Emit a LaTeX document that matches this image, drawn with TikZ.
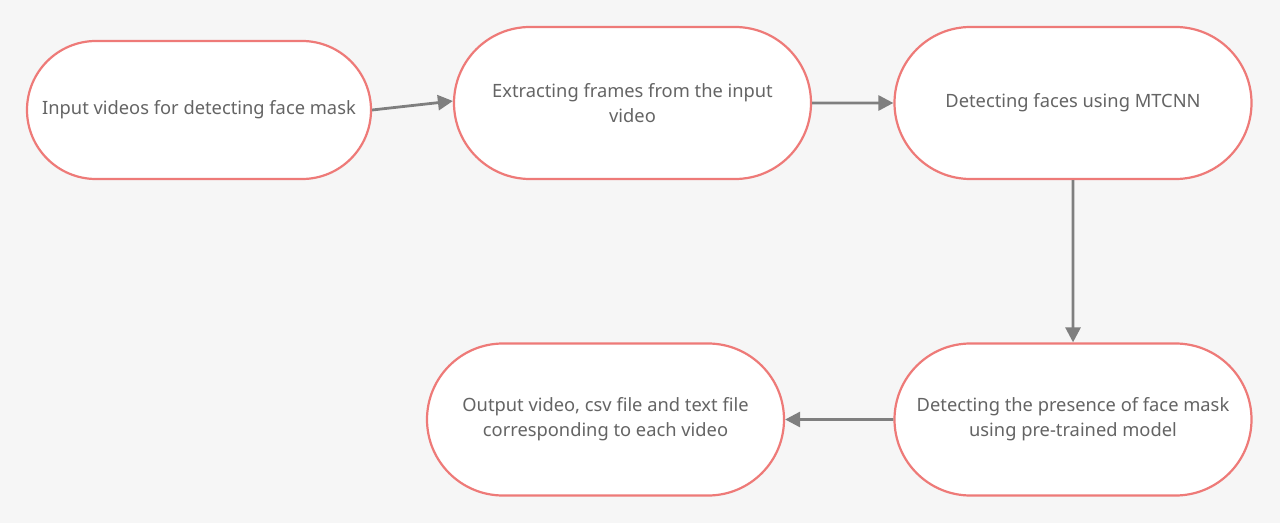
\documentclass[tikz,border=0pt]{standalone}
\usepackage{fontspec}
\setmainfont{Noto Sans}
\usepackage{xcolor}
\usetikzlibrary{shapes.misc,arrows.meta,positioning}
\definecolor{bgc}{HTML}{F6F6F6}
\definecolor{edgec}{HTML}{EE7A78}
\definecolor{arrc}{HTML}{7F7F7F}
\definecolor{txtc}{HTML}{646464}

\begin{document}
\begin{tikzpicture}[x=1pt, y=1pt, font=\fontsize{18.3}{25}\selectfont, text=txtc,
  stage/.style={draw=edgec, line width=2.2pt, fill=white, rounded rectangle, align=center, minimum width=357pt, minimum height=152pt, inner sep=0pt},
  arr/.style={-{Triangle[length=15pt, width=15pt]}, draw=arrc, line width=2.8pt}]
\fill[bgc] (0,0) rectangle (1280,523);
\useasboundingbox (0,0) rectangle (1280,523);
\node[stage, minimum width=344pt, minimum height=138pt] (input) at (199,413) {Input videos for detecting face mask};
\node[stage] (frames) at (632.5,420) {Extracting frames from the input\\video};
\node[stage] (mtcnn) at (1073,420) {Detecting faces using MTCNN};
\node[stage] (mask) at (1073,103.5) {Detecting the presence of face mask\\using pre-trained model};
\node[stage] (output) at (605.5,103.5) {Output video, csv file and text file\\corresponding to each video};
\draw[arr] (input.east) -- ([yshift=2pt]frames.west);
\draw[arr] (frames) -- (mtcnn);
\draw[arr] (mtcnn) -- (mask);
\draw[arr] (mask) -- (output);
\end{tikzpicture}
\end{document}
